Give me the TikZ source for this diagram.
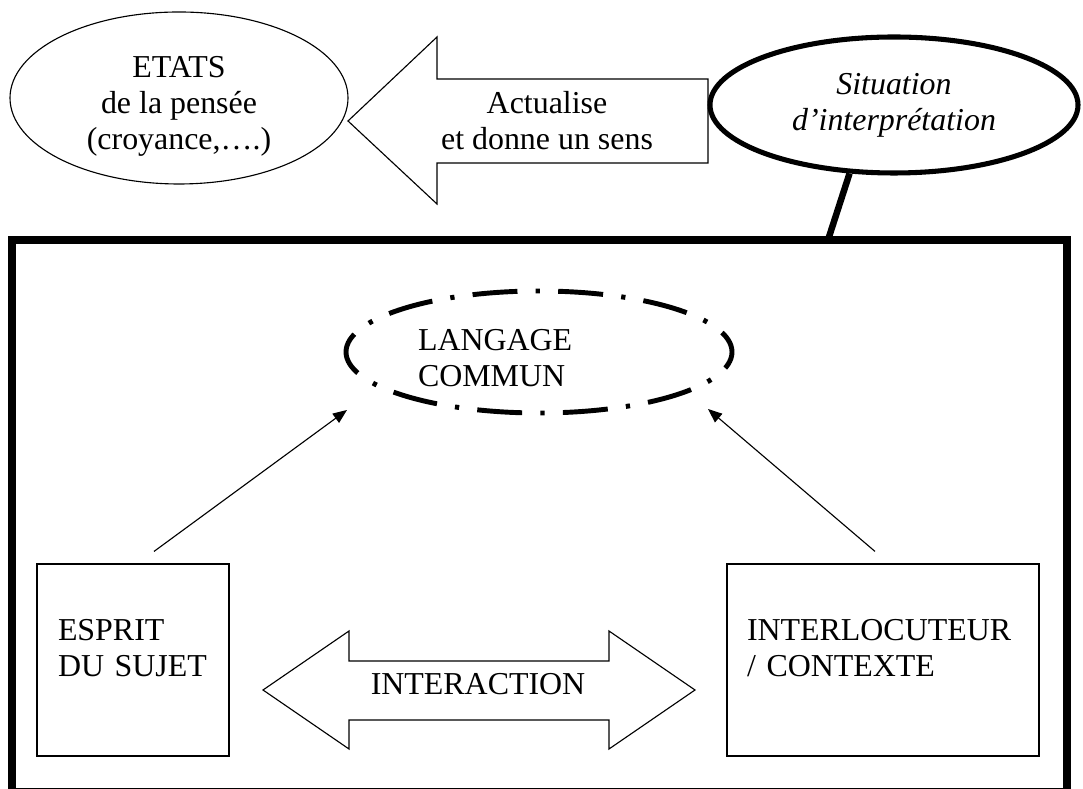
\documentclass[tikz,border=0pt]{standalone}
\usepackage{fontspec}
\setmainfont{Liberation Serif}
\usetikzlibrary{shapes.geometric,arrows.meta}

\begin{document}
\begin{tikzpicture}[
    every node/.style={font=\fontsize{22.7}{25.6}\selectfont},
    bulle/.style={ellipse,draw,fill=white,inner sep=0pt,align=center},
    boite/.style={rectangle,draw,line width=0.8pt,minimum height=4.8cm},
    texte/.style={inner sep=0pt,align=left},
    bloc/.style={draw,line width=0.8pt,fill=white,line join=miter},
    fleche/.style={-{Triangle[length=10pt,width=8pt]},line width=0.8pt}
]
    \useasboundingbox (0,0) rectangle (27.075,19.725);
    %cadre
    \draw[line width=5.3pt] (0.3,-0.075) rectangle (26.675,13.725);
    \coordinate (ancrage) at (20.7,13.725);
    %haut
    \node[bulle,line width=0.8pt,minimum width=8.45cm,minimum height=4.3cm] (etats) at (4.475,17.275) {};
    \node[texte,align=center] (etats-texte) at (4.475,17.075) {ETATS\\de la pensée\\(croyance,….)};
    \draw[bloc] (8.7,16.7) -- (10.925,18.8) -- (10.925,17.75) -- (17.7,17.75) -- (17.7,15.65) -- (10.925,15.65) -- (10.925,14.625) -- cycle;
    \node[texte,align=center] (actualise) at (13.675,16.7) {Actualise\\et donne un sens};
    \node[bulle,line width=3.6pt,minimum width=9.2cm,minimum height=3.4cm,font=\fontsize{22.7}{25.6}\selectfont\itshape] (situation) at (22.35,17.1) {Situation\\d’interprétation};
    \draw[line width=4.6pt] (situation.237) -- (ancrage);
    %centre
    \node[bulle,line width=3.5pt,dash pattern=on 32pt off 13pt on 3pt off 13pt,dash phase=16pt,minimum width=9.65cm,minimum height=3.05cm] (langage) at (13.475,10.925) {};
    \node[texte,text width=6.05cm] (langage-texte) at (13.475,10.775) {LANGAGE\\COMMUN};
    \coordinate (langage-gauche) at (8.675,9.475);
    \coordinate (langage-droite) at (17.7,9.5);
    %bas
    \node[boite,minimum width=4.8cm] (esprit) at (3.325,3.225) {};
    \node[texte,text width=3.75cm] (esprit-texte) at (3.325,3.5125) {ESPRIT\\DU SUJET};
    \node[boite,minimum width=7.8cm] (interlocuteur) at (22.075,3.225) {};
    \node[texte,text width=6.8cm] (interlocuteur-texte) at (22.075,3.5125) {INTERLOCUTEUR\\/ CONTEXTE};
    \draw[bloc] (6.575,2.475) -- (8.725,3.95) -- (8.725,3.2) -- (15.225,3.2) -- (15.225,3.95) -- (17.375,2.475) -- (15.225,1.0) -- (15.225,1.725) -- (8.725,1.725) -- (8.725,1.0) -- cycle;
    \node[texte] (interaction) at (11.95,2.625) {INTERACTION};
    %fleches
    \draw[fleche] ([xshift=5.25mm,yshift=3mm]esprit.north) -- (langage-gauche);
    \draw[fleche] ([xshift=-2mm,yshift=3mm]interlocuteur.north) -- (langage-droite);
\end{tikzpicture}
\end{document}
